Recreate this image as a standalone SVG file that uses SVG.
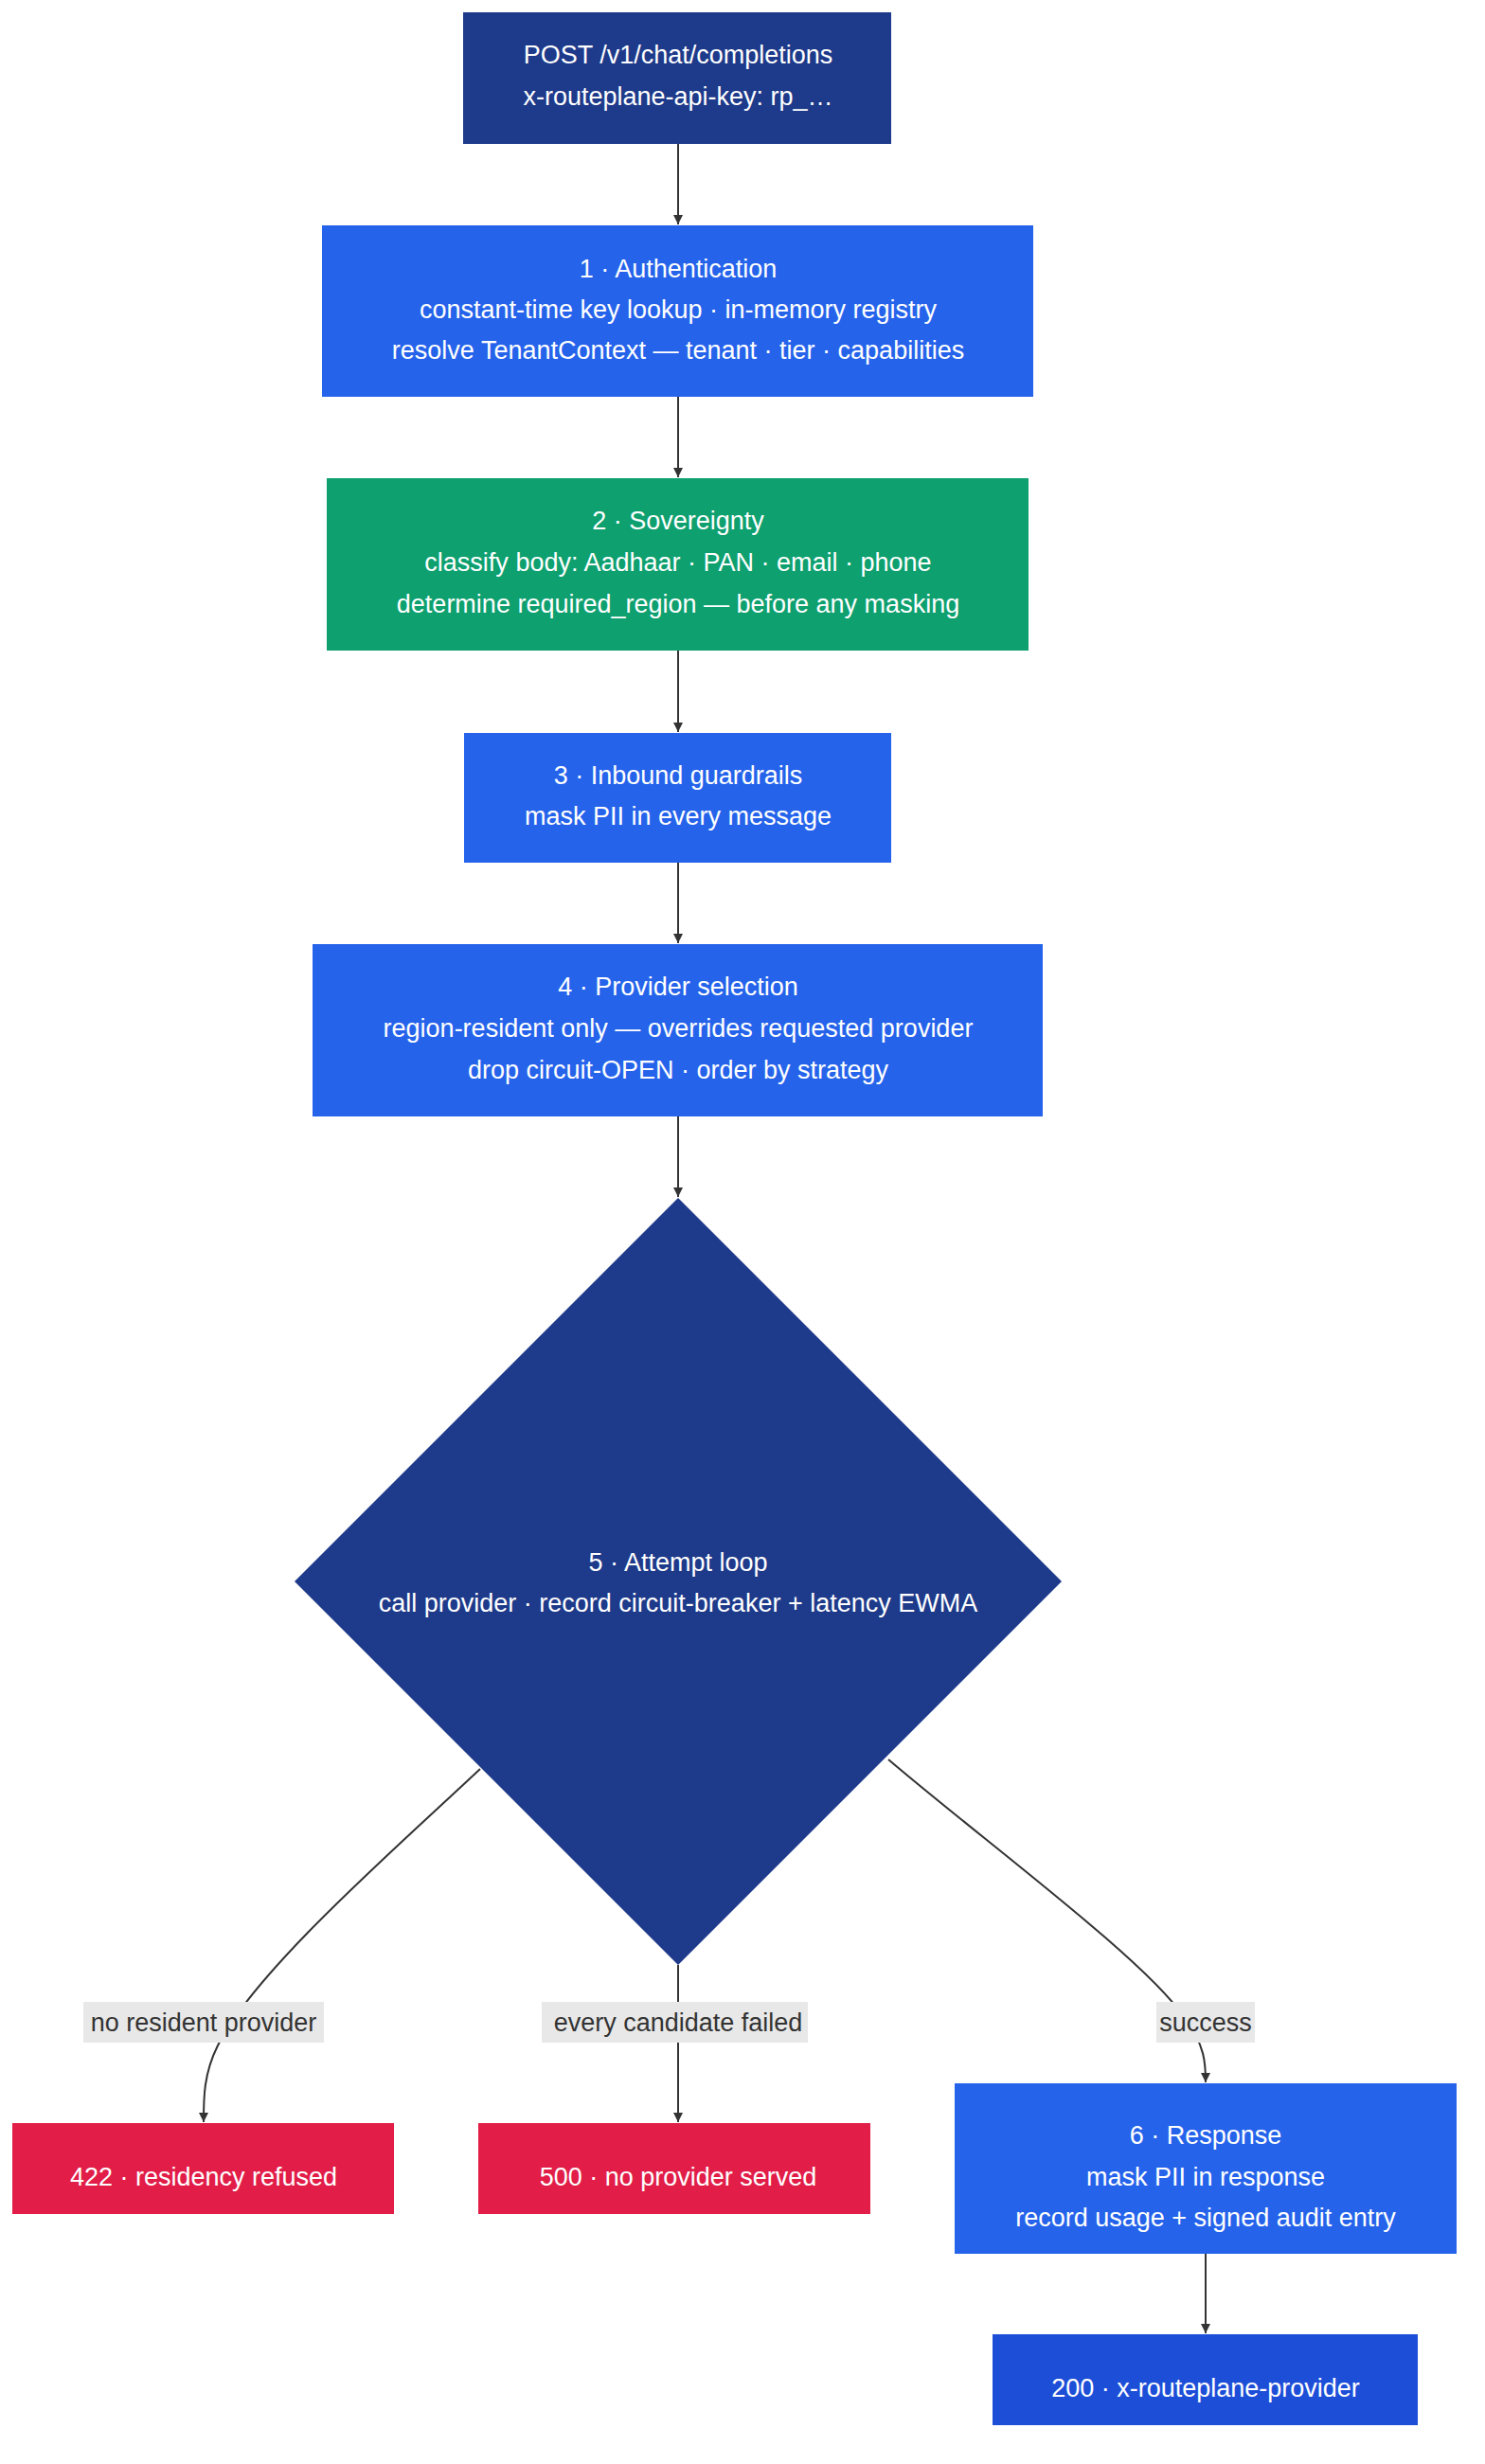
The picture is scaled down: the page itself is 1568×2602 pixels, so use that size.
<svg xmlns="http://www.w3.org/2000/svg" width="1568" height="2602" viewBox="0 0 1568 2602">
<style>
text{font-family:"Liberation Sans",Arial,sans-serif;font-size:27px;text-anchor:middle;dominant-baseline:central}
.w{fill:#fff}
.e{fill:none;stroke:#333;stroke-width:2}
.lb{fill:#e8e8e8}
.lt{fill:#333}
</style>
<defs><marker id="a" viewBox="0 0 10 10" refX="10" refY="5" markerWidth="10" markerHeight="10" markerUnits="userSpaceOnUse" orient="auto"><path d="M0,0L10,5L0,10z" fill="#333"/></marker></defs>
<rect width="1568" height="2602" fill="#fff"/>
<g id="edges">
<path class="e" d="M716,152V237" marker-end="url(#a)"/>
<path class="e" d="M716,419V504" marker-end="url(#a)"/>
<path class="e" d="M716,687V773" marker-end="url(#a)"/>
<path class="e" d="M716,911V996" marker-end="url(#a)"/>
<path class="e" d="M716,1179V1264" marker-end="url(#a)"/>
<path class="e" d="M507,1868C420,1950 270,2080 230,2160C215,2190 215,2215 215,2241" marker-end="url(#a)"/>
<path class="e" d="M716,2075V2241" marker-end="url(#a)"/>
<path class="e" d="M938,1858C1040,1945 1210,2070 1250,2130C1273,2160 1273,2180 1273,2199" marker-end="url(#a)"/>
<path class="e" d="M1273,2380V2464" marker-end="url(#a)"/>
<rect class="lb" x="88" y="2114" width="254" height="43"/><text class="lt" x="215" y="2136">no resident provider</text>
<rect class="lb" x="572" y="2114" width="281" height="43"/><text class="lt" x="716" y="2136">every candidate failed</text>
<rect class="lb" x="1221" y="2114" width="104" height="43"/><text class="lt" x="1273" y="2136">success</text>
</g>
<g id="req"><rect x="489" y="13" width="452" height="139" fill="#1e3a8a"/><text class="w" x="716" y="58">POST /v1/chat/completions</text><text class="w" x="716" y="102">x-routeplane-api-key: rp_…</text></g>
<g id="auth"><rect x="340" y="238" width="751" height="181" fill="#2563eb"/><text class="w" x="716" y="284">1 · Authentication</text><text class="w" x="716" y="327">constant-time key lookup · in-memory registry</text><text class="w" x="716" y="370">resolve TenantContext — tenant · tier · capabilities</text></g>
<g id="sov"><rect x="345" y="505" width="741" height="182" fill="#0ea06f"/><text class="w" x="716" y="550">2 · Sovereignty</text><text class="w" x="716" y="594">classify body: Aadhaar · PAN · email · phone</text><text class="w" x="716" y="638">determine required_region — before any masking</text></g>
<g id="guard"><rect x="490" y="774" width="451" height="137" fill="#2563eb"/><text class="w" x="716" y="819">3 · Inbound guardrails</text><text class="w" x="716" y="862">mask PII in every message</text></g>
<g id="sel"><rect x="330" y="997" width="771" height="182" fill="#2563eb"/><text class="w" x="716" y="1042">4 · Provider selection</text><text class="w" x="716" y="1086">region-resident only — overrides requested provider</text><text class="w" x="716" y="1130">drop circuit-OPEN · order by strategy</text></g>
<g id="loop"><polygon points="716,1265 1121,1670 716,2075 311,1670" fill="#1e3a8a"/><text class="w" x="716" y="1650">5 · Attempt loop</text><text class="w" x="716" y="1693">call provider · record circuit-breaker + latency EWMA</text></g>
<g id="r422"><rect x="13" y="2242" width="403" height="96" fill="#e11d48"/><text class="w" x="215" y="2299">422 · residency refused</text></g>
<g id="r500"><rect x="505" y="2242" width="414" height="96" fill="#e11d48"/><text class="w" x="716" y="2299">500 · no provider served</text></g>
<g id="resp"><rect x="1008" y="2200" width="530" height="180" fill="#2563eb"/><text class="w" x="1273" y="2255">6 · Response</text><text class="w" x="1273" y="2299">mask PII in response</text><text class="w" x="1273" y="2342">record usage + signed audit entry</text></g>
<g id="r200"><rect x="1048" y="2465" width="449" height="96" fill="#1d4ed8"/><text class="w" x="1273" y="2522">200 · x-routeplane-provider</text></g>
</svg>
